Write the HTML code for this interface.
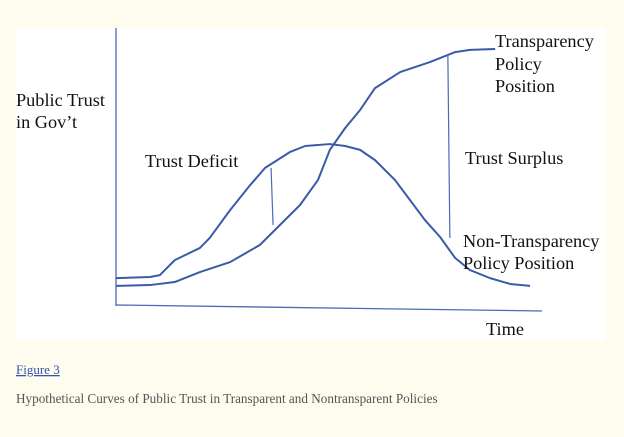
<!DOCTYPE html>
<html><head><meta charset="utf-8"><style>
body{margin:0;width:624px;height:437px;background:#fefcef;overflow:hidden;font-family:"Liberation Serif",serif;}
svg{position:absolute;left:0;top:0}
</style></head><body>
<svg width="624" height="437">
<rect x="16" y="28" width="590" height="312" fill="#ffffff"/>
<line x1="116" y1="28" x2="116" y2="306" stroke="#4a6bb5" stroke-width="1.3"/>
<line x1="116" y1="305" x2="542" y2="311" stroke="#4a6bb5" stroke-width="1.3"/>
<g id="marks"></g>
<g font-size="18.3" fill="#111">
<text x="16" y="106">Public Trust</text>
<text x="16" y="128">in Gov’t</text>
<text x="145" y="167">Trust Deficit</text>
<text x="465" y="164">Trust Surplus</text>
<text x="495" y="47">Transparency</text>
<text x="495" y="70">Policy</text>
<text x="495" y="92">Position</text>
<text x="463" y="247">Non-Transparency</text>
<text x="463" y="269">Policy Position</text>
<text x="486" y="335">Time</text>
</g>
<text x="16" y="374" font-size="13" fill="#3355aa" text-decoration="underline">Figure 3</text>
<text x="16" y="403" font-size="13.2" fill="#555">Hypothetical Curves of Public Trust in Transparent and Nontransparent Policies</text>
</svg>
<script>
const transTime=[0,8,13.8,19.7,26.8,33.8,43.2,47.4,50.2,53.8,57.3,60.8,66.7,73.7,79.6,83.1,89];
const transTrust=[6.9,7.2,8.3,11.9,15.5,21.7,36.1,45.1,56,63.9,70.4,78.3,84.1,87.7,91.3,92.1,92.4];
const nonTime=[0,8,10.3,13.8,19.7,22,26.8,31.5,35,40.8,44.4,50.2,53.8,57.3,60.8,65.5,69,72.5,76.1,79.6,83.1,87.8,92.5,97.2];
const nonTrust=[9.7,10.1,10.8,16.2,20.6,24.2,34.3,43.3,49.5,55.2,57.4,58.1,57.4,56,52.3,45.1,37.9,30.7,24.5,17,12.6,9.7,7.6,6.9];
const gapDeficit=[{t:36.4,a:49.5,b:28.9}];
const gapSurplus=[{t:77.9,a:90.3,b:24.2}];
function xs(t){return 116+t*4.26;}
function ys(v){return 305-v*2.77;}
const g=document.getElementById('marks');
const NS='http://www.w3.org/2000/svg';
function curve(T,V,name){
  const p=document.createElementNS(NS,'polyline');
  p.setAttribute('points',T.map((t,i)=>xs(t)+','+ys(V[i])).join(' '));
  p.setAttribute('fill','none');p.setAttribute('stroke','#3b5ba8');p.setAttribute('stroke-width','2');
  p.setAttribute('stroke-linejoin','round');
  
  
  g.appendChild(p);
}
curve(transTime,transTrust,'transparency-curve');
curve(nonTime,nonTrust,'non-transparency-curve');
function gap(d,name){
  const l=document.createElementNS(NS,'line');
  l.setAttribute('x1',xs(d.t));l.setAttribute('y1',ys(d.a));
  l.setAttribute('x2',xs(d.t)+2);l.setAttribute('y2',ys(d.b));
  l.setAttribute('stroke','#4a6bb5');l.setAttribute('stroke-width','1.2');
  
  
  g.appendChild(l);
}
gapDeficit.forEach(d=>gap(d,'trust-deficit-gap'));
gapSurplus.forEach(d=>gap(d,'trust-surplus-gap'));
</script>
</body></html>
